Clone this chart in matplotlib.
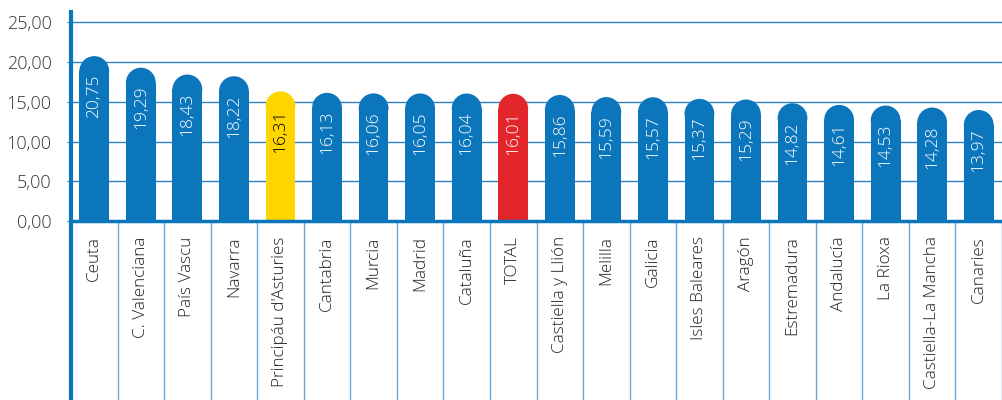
import matplotlib.pyplot as plt
import matplotlib.transforms as mtransforms
from matplotlib.lines import Line2D
from matplotlib.patches import Ellipse

# Data
regions = ['Ceuta', 'C. Valenciana', 'País Vascu', 'Navarra',
           "Principáu d'Asturies", 'Cantabria', 'Murcia', 'Madrid',
           'Cataluña', 'TOTAL', 'Castiella y Llión', 'Melilla', 'Galicia',
           'Isles Baleares', 'Aragón', 'Estremadura', 'Andalucía',
           'La Rioxa', 'Castiella-La Mancha', 'Canaries']
rates = [20.75, 19.29, 18.43, 18.22, 16.31, 16.13, 16.06, 16.05, 16.04,
         16.01, 15.86, 15.59, 15.57, 15.37, 15.29, 14.82, 14.61, 14.53,
         14.28, 13.97]
y_ticks = [0, 5, 10, 15, 20, 25]

BLUE = '#0B76BC'
LINE = '#2F80C3'
SEP = '#6AA6D8'
highlight = {"Principáu d'Asturies": ('#FFD500', 'black'),
             'TOTAL': ('#E3262B', 'white')}

plt.rcParams['font.family'] = ['Open Sans', 'DejaVu Sans']
plt.rcParams['font.weight'] = 'light'

fig = plt.figure(figsize=(10.02, 4.0), dpi=100)
ax = fig.add_axes([71 / 1002, 179 / 400, 931 / 1002, 209 / 400])
ymax = 26.3
ax.set_xlim(-0.5, len(regions) - 0.5)
ax.set_ylim(0, ymax)

# radius of the rounded bar tops, converted to y data units
width = 0.64
px_x = ax.bbox.width / len(regions)
px_y = ax.bbox.height / ymax
r = width / 2 * px_x / px_y

for i, (name, v) in enumerate(zip(regions, rates)):
    color, tcolor = highlight.get(name, (BLUE, 'white'))
    ax.bar(i, v - r, width, color=color, lw=0, zorder=3)
    ax.add_patch(Ellipse((i, v - r), width, 2 * r, color=color, lw=0,
                         zorder=3))
    ax.annotate(f'{v:.2f}'.replace('.', ','), (i, v), xytext=(0, -13),
                textcoords='offset points', rotation=90, ha='center',
                va='top', color=tcolor, fontsize=12.5, zorder=4)

# grid and axes
ax.set_yticks(y_ticks)
ax.set_yticklabels([f'{t:.2f}'.replace('.', ',') for t in y_ticks],
                   fontsize=13, color='#333333')
ax.yaxis.grid(True, color=LINE, lw=1)
ax.set_axisbelow(True)
ax.tick_params(axis='y', length=3, color=LINE, pad=11)
for s in ['top', 'right', 'left']:
    ax.spines[s].set_visible(False)
ax.spines['bottom'].set_color(BLUE)
ax.spines['bottom'].set_linewidth(2.5)
ax.spines['bottom'].set_zorder(5)

ax.set_xticks(range(len(regions)))
ax.set_xticklabels(regions, rotation=90, va='top', ha='center',
                   fontsize=12.3, color='#222222')
ax.tick_params(axis='x', length=0, pad=11)

# separators in the label area
trans = mtransforms.blended_transform_factory(ax.transData, ax.transAxes)
for k in range(1, len(regions) + 1):
    ax.plot([k - 0.5, k - 0.5], [0, -0.9], transform=trans, color=SEP,
            lw=1, clip_on=False)

# thick left axis line running to the bottom of the figure
fig.add_artist(Line2D([71 / 1002, 71 / 1002], [0, 388 / 400], color=BLUE,
                      lw=3))

fig.savefig('out.png', dpi=100)
